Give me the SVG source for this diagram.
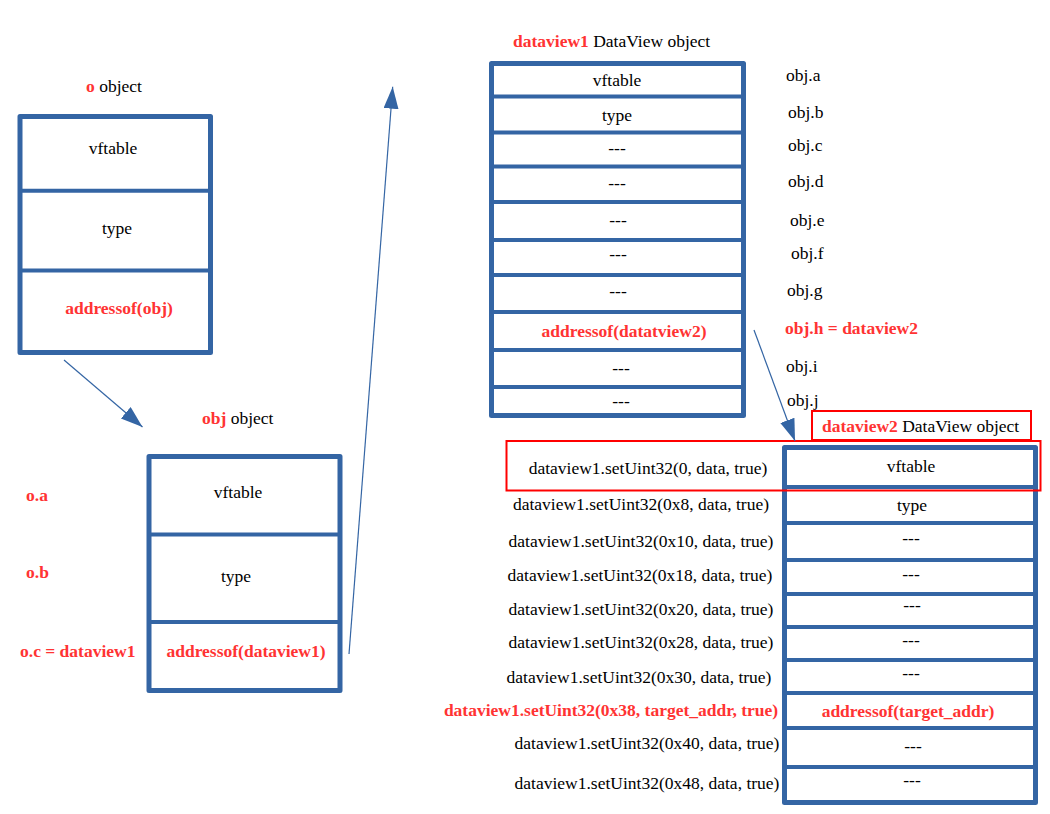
<svg xmlns="http://www.w3.org/2000/svg" width="1050" height="814" viewBox="0 0 1050 814">
<defs>
<style>
text{font-family:"Liberation Serif","Times New Roman",serif;font-size:17.5px;fill:#000}
.r{fill:#ff3333;font-weight:bold}
.m{text-anchor:middle}
.frame{fill:#fff;stroke:#3465a4;stroke-width:5;stroke-linejoin:round}
.sep{stroke:#3465a4;stroke-width:4}
.conn{stroke:#3465a4;stroke-width:1.2;fill:none}
.rb{fill:none;stroke:#ff0000;stroke-width:2}
</style>
<marker id="ah" markerUnits="userSpaceOnUse" markerWidth="24" markerHeight="18" refX="22" refY="7.5" orient="auto">
<path d="M0,0 L22,7.5 L0,15 z" fill="#3465a4"/>
</marker>
</defs>
<rect width="1050" height="814" fill="#fff"/>

<g id="o-object">
<text x="86" y="92"><tspan class="r">o</tspan> object</text>
<rect class="frame" x="20" y="116.5" width="190.5" height="236"/>
<line class="sep" x1="20" y1="190.7" x2="210.5" y2="190.7"/>
<line class="sep" x1="20" y1="270.5" x2="210.5" y2="270.5"/>
<text class="m" x="113" y="153.5">vftable</text>
<text class="m" x="117" y="233.5">type</text>
<text class="m r" x="119" y="313.5">addressof(obj)</text>
</g>

<g id="obj-object">
<text x="202" y="423.5"><tspan class="r">obj</tspan> object</text>
<rect class="frame" x="149" y="456.5" width="191" height="234"/>
<line class="sep" x1="149" y1="534.5" x2="340" y2="534.5"/>
<line class="sep" x1="149" y1="622" x2="340" y2="622"/>
<text class="m" x="238" y="497.5">vftable</text>
<text class="m" x="236" y="581.5">type</text>
<text class="m r" x="246" y="657">addressof(dataview1)</text>
<text class="r" x="26" y="500.5">o.a</text>
<text class="r" x="26" y="578">o.b</text>
<text class="r" x="20" y="656.5">o.c = dataview1</text>
</g>

<g id="dataview1">
<text x="513" y="47"><tspan class="r">dataview1</tspan> DataView object</text>
<rect class="frame" x="491.5" y="63.5" width="252" height="352"/>
<line class="sep" x1="491.5" y1="96.5" x2="743.5" y2="96.5"/>
<line class="sep" x1="491.5" y1="132.5" x2="743.5" y2="132.5"/>
<line class="sep" x1="491.5" y1="166.5" x2="743.5" y2="166.5"/>
<line class="sep" x1="491.5" y1="202" x2="743.5" y2="202"/>
<line class="sep" x1="491.5" y1="240" x2="743.5" y2="240"/>
<line class="sep" x1="491.5" y1="275" x2="743.5" y2="275"/>
<line class="sep" x1="491.5" y1="312" x2="743.5" y2="312"/>
<line class="sep" x1="491.5" y1="350" x2="743.5" y2="350"/>
<line class="sep" x1="491.5" y1="387" x2="743.5" y2="387"/>
<text class="m" x="617" y="85.5">vftable</text>
<text class="m" x="617" y="121">type</text>
<text class="m" x="617" y="154">---</text>
<text class="m" x="617" y="189">---</text>
<text class="m" x="618" y="226">---</text>
<text class="m" x="618" y="260">---</text>
<text class="m" x="618" y="297">---</text>
<text class="m r" x="624" y="336.5">addressof(datatview2)</text>
<text class="m" x="621" y="374">---</text>
<text class="m" x="621" y="407">---</text>
<text x="786" y="80.5">obj.a</text>
<text x="788" y="118">obj.b</text>
<text x="788" y="150.5">obj.c</text>
<text x="788" y="187">obj.d</text>
<text x="790" y="225.5">obj.e</text>
<text x="791" y="258.5">obj.f</text>
<text x="787" y="295.5">obj.g</text>
<text class="r" x="785" y="333.5">obj.h = dataview2</text>
<text x="786" y="372">obj.i</text>
<text x="787" y="405.5">obj.j</text>
</g>

<g id="dataview2">
<rect class="rb" x="812" y="411" width="219" height="29"/>
<text x="822" y="432"><tspan class="r">dataview2</tspan> DataView object</text>
<rect class="frame" x="784.5" y="447.5" width="251" height="355"/>
<line class="sep" x1="784.5" y1="487" x2="1035.5" y2="487"/>
<line class="sep" x1="784.5" y1="523" x2="1035.5" y2="523"/>
<line class="sep" x1="784.5" y1="560" x2="1035.5" y2="560"/>
<line class="sep" x1="784.5" y1="594" x2="1035.5" y2="594"/>
<line class="sep" x1="784.5" y1="627" x2="1035.5" y2="627"/>
<line class="sep" x1="784.5" y1="660" x2="1035.5" y2="660"/>
<line class="sep" x1="784.5" y1="693" x2="1035.5" y2="693"/>
<line class="sep" x1="784.5" y1="728" x2="1035.5" y2="728"/>
<line class="sep" x1="784.5" y1="767" x2="1035.5" y2="767"/>
<text class="m" x="911" y="471.5">vftable</text>
<text class="m" x="912" y="510.5">type</text>
<text class="m" x="911" y="544">---</text>
<text class="m" x="911" y="580">---</text>
<text class="m" x="912" y="611">---</text>
<text class="m" x="911" y="646">---</text>
<text class="m" x="911" y="679">---</text>
<text class="m r" x="908" y="716.5">addressof(target_addr)</text>
<text class="m" x="913" y="752">---</text>
<text class="m" x="912" y="786">---</text>
<text class="m" x="648" y="473.5">dataview1.setUint32(0, data, true)</text>
<text class="m" x="641" y="509.5">dataview1.setUint32(0x8, data, true)</text>
<text class="m" x="641" y="546.5">dataview1.setUint32(0x10, data, true)</text>
<text class="m" x="640" y="580.5">dataview1.setUint32(0x18, data, true)</text>
<text class="m" x="641" y="614.5">dataview1.setUint32(0x20, data, true)</text>
<text class="m" x="641" y="647.5">dataview1.setUint32(0x28, data, true)</text>
<text class="m" x="639" y="682.5">dataview1.setUint32(0x30, data, true)</text>
<text class="m r" x="611" y="715.5">dataview1.setUint32(0x38, target_addr, true)</text>
<text class="m" x="647" y="748.5">dataview1.setUint32(0x40, data, true)</text>
<text class="m" x="647" y="789">dataview1.setUint32(0x48, data, true)</text>
<rect class="rb" x="506.5" y="441" width="534" height="49.5"/>
</g>

<g id="connectors">
<line class="conn" x1="64" y1="360" x2="142.5" y2="427" marker-end="url(#ah)"/>
<line class="conn" x1="349" y1="654" x2="392.7" y2="86.7" marker-end="url(#ah)"/>
<line class="conn" x1="754" y1="330" x2="795" y2="441" marker-end="url(#ah)"/>
</g>
</svg>
